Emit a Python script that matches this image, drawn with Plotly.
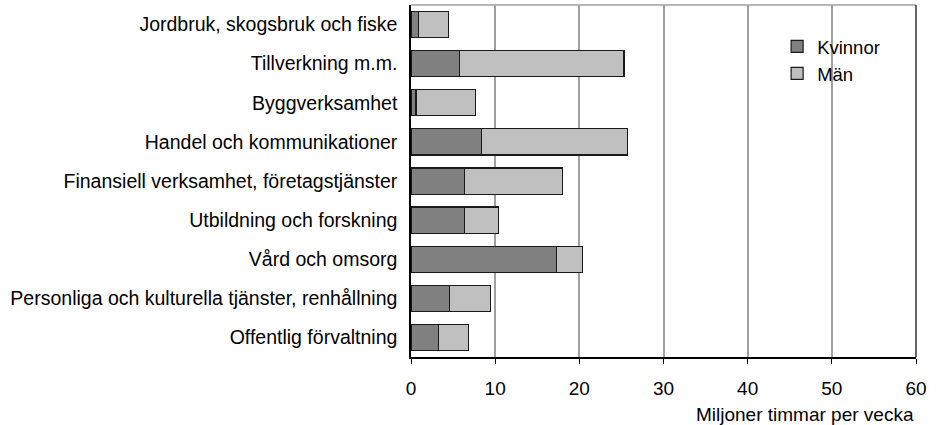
import plotly.graph_objects as go

sectors = [
    'Jordbruk, skogsbruk och fiske',
    'Tillverkning m.m.',
    'Byggverksamhet',
    'Handel och kommunikationer',
    'Finansiell verksamhet, företagstjänster',
    'Utbildning och forskning',
    'Vård och omsorg',
    'Personliga och kulturella tjänster, renhållning',
    'Offentlig förvaltning',
]
kvinnor = [0.9, 5.8, 0.6, 8.4, 6.4, 6.4, 17.3, 4.6, 3.3]
man = [3.6, 19.5, 7.1, 17.3, 11.6, 4.0, 3.1, 4.8, 3.5]
x_ticks = [0, 10, 20, 30, 40, 50, 60]

font_family = 'Liberation Sans, Arial, sans-serif'

fig = go.Figure()
fig.add_trace(go.Bar(
    y=sectors, x=kvinnor, name='Kvinnor', orientation='h',
    marker=dict(color='#808080', line=dict(color='#1a1a1a', width=1.2))
))
fig.add_trace(go.Bar(
    y=sectors, x=man, name='Män', orientation='h',
    marker=dict(color='#c0c0c0', line=dict(color='#1a1a1a', width=1.2))
))

fig.update_layout(
    barmode='stack',
    bargap=0.33,
    width=936, height=425,
    margin=dict(l=411, r=20, t=5, b=68),
    plot_bgcolor='white', paper_bgcolor='white',
    font=dict(family=font_family, size=19, color='black'),
    legend=dict(
        x=0.725, y=0.935, xanchor='left', yanchor='top',
        traceorder='normal',
        bgcolor='rgba(0,0,0,0)', font=dict(size=18.5),
        tracegroupgap=0, itemwidth=30,
    ),
    xaxis=dict(
        range=[0, 60], tickvals=x_ticks, showgrid=True,
        gridcolor='#a0a0a0', gridwidth=1.5,
        showline=True, linecolor='black', linewidth=1.5,
        ticks='outside', ticklen=5, tickcolor='black',
        ticklabelstandoff=8, tickfont=dict(size=19),
        zeroline=False, fixedrange=True,
    ),
    yaxis=dict(
        autorange='reversed', showline=True, linecolor='black',
        linewidth=1.5, showgrid=False, ticks='', ticklabelstandoff=8,
        tickfont=dict(size=19.5),
    ),
    annotations=[dict(
        text='Miljoner timmar per vecka', xref='paper', yref='paper',
        x=1.0, y=-0.162, xanchor='right', yanchor='middle', showarrow=False,
        font=dict(size=19),
    )],
    shapes=[
        dict(type='line', xref='x domain', yref='y domain', x0=0, x1=1, y0=1, y1=1,
             line=dict(color='#a0a0a0', width=1.5)),
        dict(type='line', xref='x domain', yref='y domain', x0=1, x1=1, y0=0, y1=1,
             line=dict(color='#333333', width=1.5)),
    ],
)

fig.write_html('out.html', config={'displayModeBar': False},
               post_script="document.body.style.margin='0px';")
